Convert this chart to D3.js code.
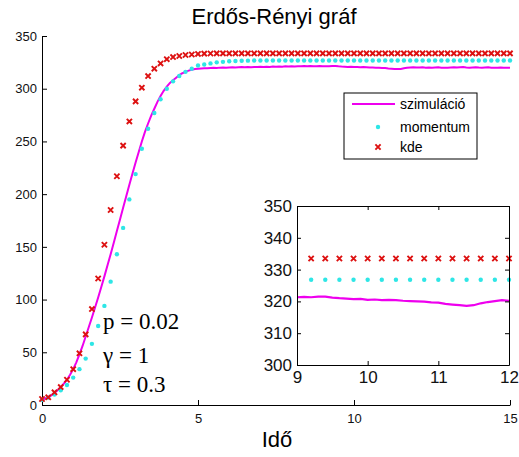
<!DOCTYPE html>
<html>
<head>
<meta charset="utf-8">
<script src="https://cdn.jsdelivr.net/npm/d3@7"></script>
<style>
  body { margin: 0; background: #fff; }
  svg { display: block; font-family: Arial, 'Liberation Sans', sans-serif; }
  .axis path, .axis line { stroke: #000; }
  .axis text { fill: #111; }
</style>
</head>
<body>
<script>
'use strict'

// time grids: markers every 0.2, simulation every 0.1
const tMarks = d3.range(0, 76).map(function (i) { return +(i * 0.2).toFixed(1) })
const tSim = d3.range(0, 151).map(function (i) { return +(i * 0.1).toFixed(1) })

const kde = [
  5.7, 7.3, 12, 17, 24, 34, 49, 67, 91, 120, 152, 185, 217, 246, 269, 288,
  301, 312, 319, 324, 328, 330, 331, 332, 332.5, 333, 333.3, 333.4,
  333.5, 333.5, 333.5, 333.5, 333.5, 333.5, 333.5, 333.5, 333.5, 333.5,
  333.5, 333.5, 333.5, 333.5, 333.5, 333.5, 333.5, 333.5, 333.5, 333.5,
  333.5, 333.5, 333.5, 333.5, 333.5, 333.5, 333.5, 333.5, 333.5, 333.5,
  333.5, 333.5, 333.5, 333.5, 333.5, 333.5, 333.5, 333.5, 333.5, 333.5,
  333.5, 333.5, 333.5, 333.5, 333.5, 333.5, 333.5, 333.5
]

const momentum = [
  5, 7, 10, 14, 19, 26, 34, 44, 58, 75, 94, 117, 143, 168, 195, 219,
  243, 262, 277, 290, 300, 307, 312, 316, 319, 322,
  323, 324, 325, 325.5, 326, 326.3, 326.5, 326.6, 326.7,
  326.8, 326.8, 326.8, 326.8, 326.8, 326.8, 326.8, 326.8, 326.8, 326.8,
  326.8, 326.8, 326.8, 326.8, 326.8, 326.8, 326.8, 326.8, 326.8, 326.8,
  326.8, 326.8, 326.8, 326.8, 326.8, 326.8, 326.8, 326.8, 326.8, 326.8,
  326.8, 326.8, 326.8, 326.8, 326.8, 326.8, 326.8, 326.8, 326.8, 326.8,
  326.8
]

const szimulacio = [
  5, 6.2, 7.5, 9.2, 11.5, 14, 17, 20.3, 24, 28.7, 34,
  40.5, 48, 56, 65, 74, 83, 92.5, 102, 112, 122,
  132.5, 143, 154, 165, 176, 187, 198, 209, 219.5, 230,
  240, 250, 259, 267, 274.5, 281, 287.5, 293, 298, 302,
  305.5, 308, 310.5, 313, 314.7, 316, 317.2, 318, 318.6, 319,
  319.2, 319.4, 319.3, 319.6, 319.8, 319.7, 320.0, 320.1, 319.9, 320.2,
  320.3, 320.1, 320.4, 320.5, 320.3, 320.6, 320.4, 320.7, 320.5, 320.8,
  320.6, 320.9, 320.7, 321.0, 320.8, 321.1, 320.9, 321.2, 321.0, 321.3,
  321.1, 321.4, 321.2, 321.5, 321.3, 321.6, 321.4, 321.2, 321.5, 321.3,
  321.4, 321.3, 321.5, 321.5, 321.2, 321.0, 320.9, 320.7, 320.8, 320.5,
  320.6, 320.4, 320.5, 320.4, 320.2, 320.1, 320.0, 319.9, 319.7, 319.6,
  319.2, 319.0, 318.8, 318.6, 318.8, 319.4, 319.8, 320.1, 320.4, 320.2,
  320.1, 320.3, 320.0, 320.2, 319.9, 320.1, 320.3, 320.0, 319.8, 320.0,
  320.2, 320.4, 320.1, 320.3, 320.5, 320.2, 320.0, 320.2, 320.4, 320.1,
  319.9, 320.1, 320.3, 320.0, 319.8, 319.9, 320.1, 319.8, 320.0, 319.9
]

const mainXTicks = [0, 5, 10, 15]
const mainYTicks = [0, 50, 100, 150, 200, 250, 300, 350]
const insetXTicks = [9, 10, 11, 12]
const insetYTicks = [300, 310, 320, 330, 340, 350]
const legendLabels = ['szimuláció', 'momentum', 'kde']
const params = ['p = 0.02', 'γ = 1', 'τ = 0.3']

const magenta = '#ee00ee'
const cyan = '#2ee6e6'
const red = '#dd1111'

const width = 519
const height = 457

const simData = tSim.map(function (t, i) { return { t: t, v: szimulacio[i] } })
const momData = tMarks.map(function (t, i) { return { t: t, v: momentum[i] } })
const kdeData = tMarks.map(function (t, i) { return { t: t, v: kde[i] } })

const svg = d3.select('body').append('svg')
  .attr('width', width)
  .attr('height', height)

// main axes
const x = d3.scaleLinear().domain([0, 15]).range([42, 510])
const y = d3.scaleLinear().domain([0, 350]).range([405, 36])

svg.append('g')
  .attr('class', 'axis')
  .attr('transform', 'translate(' + x(0) + ',0)')
  .call(d3.axisLeft(y).tickValues(mainYTicks).tickSize(-5).tickSizeOuter(0).tickPadding(5))
  .style('font-size', '13px')

svg.append('g')
  .attr('class', 'axis')
  .attr('transform', 'translate(0,' + y(0) + ')')
  .call(d3.axisBottom(x).tickValues(mainXTicks).tickSize(-5).tickSizeOuter(0).tickPadding(9))
  .style('font-size', '13px')

function drawSeries (g, xs, ys, sim, mom, kd, sw) {
  const line = d3.line()
    .x(function (d) { return xs(d.t) })
    .y(function (d) { return ys(d.v) })

  g.append('path')
    .datum(sim)
    .attr('fill', 'none')
    .attr('stroke', magenta)
    .attr('stroke-width', sw)
    .attr('d', line)

  g.selectAll('circle.mom')
    .data(mom)
    .enter()
    .append('circle')
    .attr('class', 'mom')
    .attr('cx', function (d) { return xs(d.t) })
    .attr('cy', function (d) { return ys(d.v) })
    .attr('r', 2.2)
    .attr('fill', cyan)

  g.selectAll('path.kde')
    .data(kd)
    .enter()
    .append('path')
    .attr('class', 'kde')
    .attr('d', function (d) {
      const cx = xs(d.t)
      const cy = ys(d.v)
      const s = 2.6
      return 'M' + (cx - s) + ',' + (cy - s) + 'L' + (cx + s) + ',' + (cy + s) +
        'M' + (cx - s) + ',' + (cy + s) + 'L' + (cx + s) + ',' + (cy - s)
    })
    .attr('stroke', red)
    .attr('stroke-width', 1.9)
}

drawSeries(svg.append('g'), x, y, simData, momData, kdeData, 2)

// title and label
svg.append('text')
  .attr('x', 274)
  .attr('y', 24)
  .attr('text-anchor', 'middle')
  .style('font-size', '22px')
  .text('Erdős-Rényi gráf')

svg.append('text')
  .attr('x', 277)
  .attr('y', 447)
  .attr('text-anchor', 'middle')
  .style('font-size', '22px')
  .text('Idő')

// parameters
const paramY = [329, 363, 392]
svg.selectAll('text.param')
  .data(params)
  .enter()
  .append('text')
  .attr('class', 'param')
  .attr('x', 103)
  .attr('y', function (d, i) { return paramY[i] })
  .style('font-family', "'Liberation Serif', 'Times New Roman', serif")
  .style('font-size', '23px')
  .text(function (d) { return d })

// legend
const legend = svg.append('g').attr('transform', 'translate(344,93)')
legend.append('rect')
  .attr('width', 133)
  .attr('height', 66)
  .attr('fill', '#fff')
  .attr('stroke', '#000')
  .attr('stroke-width', 1)

const rowY = [11, 34, 54]
legend.append('line')
  .attr('x1', 8).attr('x2', 51)
  .attr('y1', rowY[0]).attr('y2', rowY[0])
  .attr('stroke', magenta)
  .attr('stroke-width', 2)
legend.append('circle')
  .attr('cx', 34).attr('cy', rowY[1])
  .attr('r', 2.2)
  .attr('fill', cyan)
legend.append('path')
  .attr('d', 'M31.4,' + (rowY[2] - 2.6) + 'l5.2,5.2M31.4,' + (rowY[2] + 2.6) + 'l5.2,-5.2')
  .attr('stroke', red)
  .attr('stroke-width', 1.9)
legend.selectAll('text')
  .data(legendLabels)
  .enter()
  .append('text')
  .attr('x', 56)
  .attr('y', function (d, i) { return rowY[i] })
  .attr('dy', '0.35em')
  .style('font-size', '14px')
  .text(function (d) { return d })

// inset
const xi = d3.scaleLinear().domain([9, 12]).range([297, 509])
const yi = d3.scaleLinear().domain([300, 350]).range([365, 206])

const inset = svg.append('g')
inset.append('rect')
  .attr('x', xi(9))
  .attr('y', yi(350))
  .attr('width', xi(12) - xi(9))
  .attr('height', yi(300) - yi(350))
  .attr('fill', '#fff')

function inRange (d) { return d.t > 9.05 && d.t < 12.05 }
drawSeries(inset.append('g'), xi, yi,
  simData.filter(function (d) { return d.t >= 9 && d.t <= 12.001 }),
  momData.filter(inRange), kdeData.filter(inRange), 2.2)

inset.append('g')
  .attr('class', 'axis')
  .attr('transform', 'translate(' + xi(9) + ',0)')
  .call(d3.axisLeft(yi).tickValues(insetYTicks).tickSize(-4).tickSizeOuter(0).tickPadding(5))
  .style('font-size', '17px')
inset.append('g')
  .attr('class', 'axis')
  .attr('transform', 'translate(0,' + yi(300) + ')')
  .call(d3.axisBottom(xi).tickValues(insetXTicks).tickFormat(d3.format('d'))
    .tickSize(-4).tickSizeOuter(0).tickPadding(6))
  .style('font-size', '17px')
inset.append('g')
  .attr('class', 'axis')
  .attr('transform', 'translate(' + xi(12) + ',0)')
  .call(d3.axisRight(yi).tickValues(insetYTicks).tickSize(-4).tickSizeOuter(0).tickFormat(''))
inset.append('g')
  .attr('class', 'axis')
  .attr('transform', 'translate(0,' + yi(350) + ')')
  .call(d3.axisTop(xi).tickValues(insetXTicks).tickSize(-4).tickSizeOuter(0).tickFormat(''))
</script>
</body>
</html>
